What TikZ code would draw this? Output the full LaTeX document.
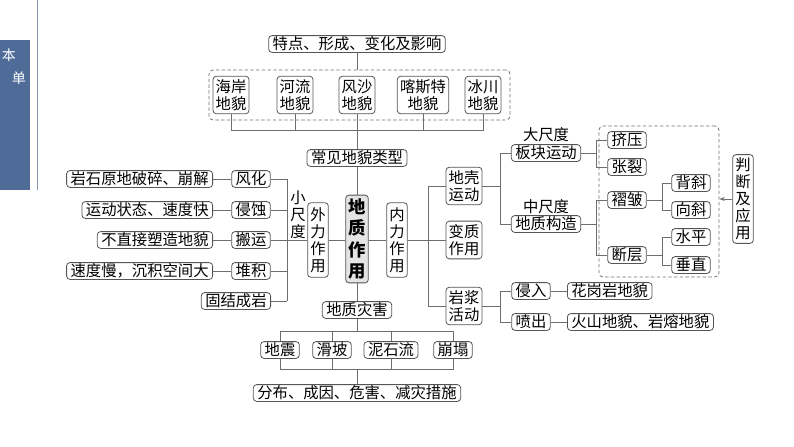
\documentclass[tikz,border=0pt]{standalone}
\usepackage{fontspec}
\setmainfont{Noto Sans CJK SC}
\usetikzlibrary{arrows.meta,fit}
\definecolor{boxgray}{RGB}{85,85,85}
\definecolor{linegray}{RGB}{110,110,110}
\definecolor{panelblue}{RGB}{79,108,152}
\definecolor{centerfill}{RGB}{228,228,228}
\begin{document}
\begin{tikzpicture}[x=0.75pt,y=-0.75pt,
  bx/.style={draw=boxgray, rounded corners=2.5pt, line width=0.6pt, inner xsep=3pt, inner ysep=0.8pt,
     text height=9.5pt, text depth=1.5pt, font=\fontsize{11.5}{12.75}\selectfont},
  mbx/.style={draw=boxgray, rounded corners=2.5pt, line width=0.6pt, inner xsep=2pt, inner ysep=2.4pt,
     align=center, font=\fontsize{11.5}{12.75}\selectfont},
  vbx/.style={mbx, inner ysep=3.5pt},
  lbl/.style={inner sep=0pt, align=center, font=\fontsize{11.5}{12.75}\selectfont},
  ptxt/.style={text=white, font=\fontsize{10.5}{12}\selectfont, inner sep=0pt},
  dbox/.style={draw=linegray, dashed, dash pattern=on 2.5pt off 1.8pt, rounded corners=3pt, line width=0.6pt, inner sep=0pt},
  ln/.style={draw=linegray, line width=0.6pt}]
\useasboundingbox (0,0) rectangle (794,447);

% left panel
\fill[panelblue] (0,40) rectangle (30,190);
\node[ptxt] (pa) at (9,55) {本};
\node[ptxt] (pb) at (19,78) {单};
\draw[draw={rgb,255:red,140;green,155;blue,180}, line width=0.7pt] (37,0) -- (37,190);

% top part
\node[bx] (top) at (357,44) {特点、形成、变化及影响};
\node[dbox, fit={(209,70) (510,120)}] (lf) {};
\node[mbx] (hai) at (231,95) {海岸\\地貌};
\node[mbx] (he) at (295,95) {河流\\地貌};
\node[mbx] (feng) at (357,95) {风沙\\地貌};
\node[mbx] (ka) at (423,95) {喀斯特\\地貌};
\node[mbx] (bing) at (483,95) {冰川\\地貌};
\coordinate (busA) at (357,130);
\draw[ln] (top.south) -- (top.south |- lf.north);
\draw[ln] (hai.south) -- (hai.south |- busA) -- (bing.south |- busA) -- (bing.south);
\draw[ln] (he.south) -- (he.south |- busA);
\draw[ln] (ka.south) -- (ka.south |- busA);

\node[bx] (cj) at (357,158) {常见地貌类型};
\draw[ln] (feng.south) -- (cj.north);

% center
\node[draw=boxgray, fill=centerfill, rounded corners=2.5pt, line width=0.6pt, inner xsep=2pt, inner ysep=2.7pt,
      align=center, font=\fontsize{13}{16}\selectfont\bfseries] (dz) at (357,239) {地\\质\\作\\用};
\node[vbx] (wl) at (318,240) {外\\力\\作\\用};
\node[vbx] (nl) at (397,240) {内\\力\\作\\用};
\draw[ln] (cj.south) -- (dz.north);
\draw[ln] (wl.east) -- (wl.east -| dz.west);
\draw[ln] (nl.west) -- (nl.west -| dz.east);

% left branch
\coordinate (tl) at (287,0);
\node[bx] (fh) at (251,179) {风化};
\node[bx] (qs) at (251,210) {侵蚀};
\node[bx] (by) at (251,240) {搬运};
\node[bx] (dj) at (251,271) {堆积};
\node[bx, anchor=east] (gj) at (271,301) {固结成岩};
\node[lbl] (xcd) at (298,215) {小\\尺\\度};
\draw[ln] (wl.west) -- (wl.west -| tl);
\draw[ln] (fh.east -| tl) -- (gj.east -| tl);
\foreach \n in {fh,qs,by,dj,gj}{\draw[ln] (\n.east) -- (\n.east -| tl);}
\node[bx, anchor=east] (d1) at (213,179) {岩石原地破碎、崩解};
\node[bx, anchor=east] (d2) at (213,210) {运动状态、速度快};
\node[bx, anchor=east] (d3) at (213,240) {不直接塑造地貌};
\node[bx, anchor=east] (d4) at (213,271) {速度慢，沉积空间大};
\draw[ln] (d1.east) -- (fh.west);
\draw[ln] (d2.east) -- (qs.west);
\draw[ln] (d3.east) -- (by.west);
\draw[ln] (d4.east) -- (dj.west);

% right branch
\coordinate (tr) at (428,0);
\node[mbx] (dk) at (464,186) {地壳\\运动};
\node[mbx] (bz) at (464,240) {变质\\作用};
\node[mbx] (yj) at (464,306) {岩浆\\活动};
\draw[ln] (nl.east) -- (nl.east -| tr);
\draw[ln] (dk.west -| tr) -- (yj.west -| tr);
\foreach \n in {dk,bz,yj}{\draw[ln] (\n.west) -- (\n.west -| tr);}

\coordinate (b1) at (500,0);
\node[bx] (bk) at (546,153) {板块运动};
\node[bx] (gz) at (546,224) {地质构造};
\node[lbl] (dcd) at (546,135) {大尺度};
\node[lbl] (zcd) at (546,207) {中尺度};
\draw[ln] (dk.east) -- (dk.east -| b1);
\draw[ln] (bk.west -| b1) -- (gz.west -| b1);
\draw[ln] (bk.west) -- (bk.west -| b1);
\draw[ln] (gz.west) -- (gz.west -| b1);

\node[dbox, fit={(599,126) (719,277)}] (rd) {};
\coordinate (b2) at (596,0);
\node[bx] (jy) at (627,140) {挤压};
\node[bx] (zl) at (627,167) {张裂};
\node[bx] (zz) at (627,200) {褶皱};
\node[bx] (dc) at (627,255) {断层};
\draw[ln] (bk.east) -- (bk.east -| b2);
\draw[ln] (jy.west -| b2) -- (zl.west -| b2);
\draw[ln] (jy.west) -- (jy.west -| b2);
\draw[ln] (zl.west) -- (zl.west -| b2);
\draw[ln] (gz.east) -- (gz.east -| b2);
\draw[ln] (zz.west -| b2) -- (dc.west -| b2);
\draw[ln] (zz.west) -- (zz.west -| b2);
\draw[ln] (dc.west) -- (dc.west -| b2);

\coordinate (b3) at (662,0);
\node[bx] (bx1) at (691,183) {背斜};
\node[bx] (xx) at (691,210) {向斜};
\node[bx] (sp) at (691,237) {水平};
\node[bx] (cz) at (691,265) {垂直};
\draw[ln] (zz.east) -- (zz.east -| b3);
\draw[ln] (bx1.west -| b3) -- (xx.west -| b3);
\draw[ln] (bx1.west) -- (bx1.west -| b3);
\draw[ln] (xx.west) -- (xx.west -| b3);
\draw[ln] (dc.east) -- (dc.east -| b3);
\draw[ln] (sp.west -| b3) -- (cz.west -| b3);
\draw[ln] (sp.west) -- (sp.west -| b3);
\draw[ln] (cz.west) -- (cz.west -| b3);

\node[vbx, inner ysep=2.5pt] (pd) at (743,199) {判\\断\\及\\应\\用};
\draw[ln, -{Stealth[length=4pt,width=3pt]}] (pd.west) -- (pd.west -| rd.east);

% magma
\coordinate (b4) at (500,0);
\node[bx] (qr) at (531,291) {侵入};
\node[bx] (pc2) at (531,322) {喷出};
\node[bx, anchor=west] (hg) at (567,291) {花岗岩地貌};
\node[bx, anchor=west] (hs) at (567,322) {火山地貌、岩熔地貌};
\draw[ln] (yj.east) -- (yj.east -| b4);
\draw[ln] (qr.west -| b4) -- (pc2.west -| b4);
\draw[ln] (qr.west) -- (qr.west -| b4);
\draw[ln] (pc2.west) -- (pc2.west -| b4);
\draw[ln] (qr.east) -- (hg.west);
\draw[ln] (pc2.east) -- (hs.west);

% bottom
\node[bx] (zh) at (357,310) {地质灾害};
\draw[ln] (dz.south) -- (zh.north);
\coordinate (busB) at (357,331);
\coordinate (busC) at (357,369);
\node[bx] (dzh) at (280,350) {地震};
\node[bx] (hp) at (332,350) {滑坡};
\node[bx] (nsl) at (391,350) {泥石流};
\node[bx] (bt) at (453,350) {崩塌};
\draw[ln] (zh.south) -- (busB);
\draw[ln] (dzh.north) -- (dzh.north |- busB) -- (bt.north |- busB) -- (bt.north);
\draw[ln] (hp.north) -- (hp.north |- busB);
\draw[ln] (nsl.north) -- (nsl.north |- busB);
\draw[ln] (dzh.south) -- (dzh.south |- busC) -- (bt.south |- busC) -- (bt.south);
\draw[ln] (hp.south) -- (hp.south |- busC);
\draw[ln] (nsl.south) -- (nsl.south |- busC);
\node[bx] (fb) at (357,393) {分布、成因、危害、减灾措施};
\draw[ln] (busC) -- (fb.north);
\end{tikzpicture}
\end{document}
